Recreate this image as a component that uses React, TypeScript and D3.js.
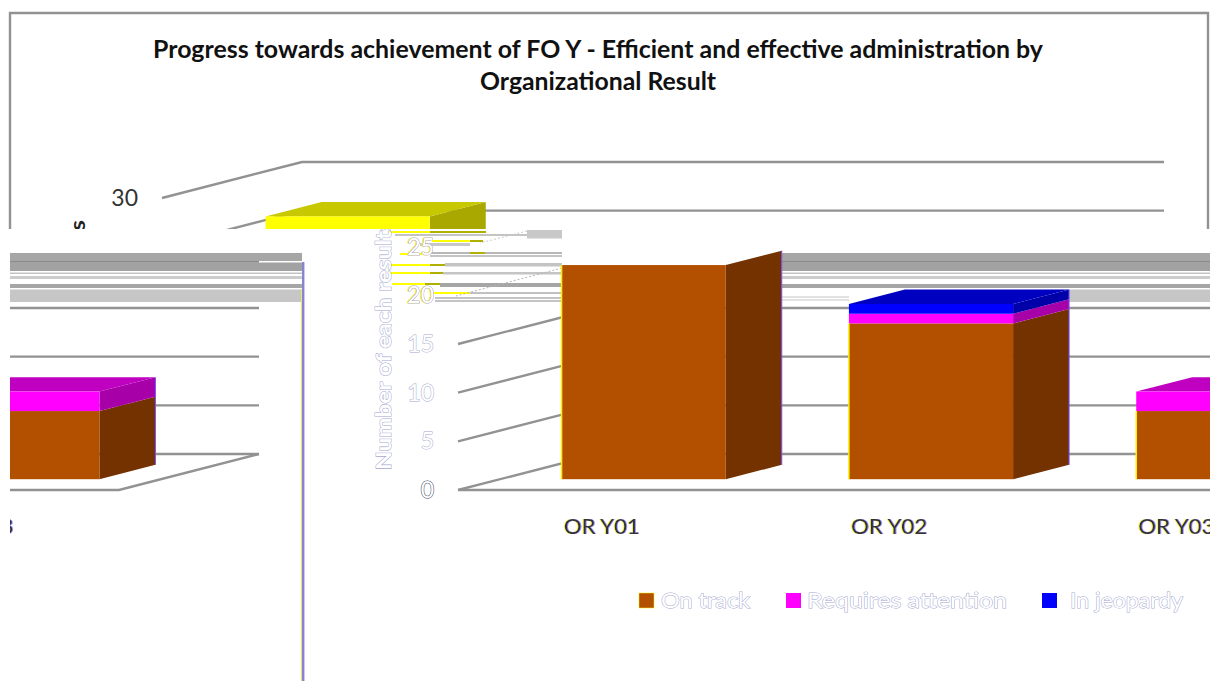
import React from "react";
import * as d3 from "d3";

const categories = ["OR Y01", "OR Y02", "OR Y03"];
const seriesNames = ["On track", "Requires attention", "In jeopardy", "Completed"];
const onTrack = [22, 16, 7];
const requiresAttention = [0, 1, 2];
const inJeopardy = [0, 1, 0];
const completed = [5, 0, 0];
const valueTicks = [0, 5, 10, 15, 20, 25, 30];
const titleLines = [
  "Progress towards achievement of FO Y - Efficient and effective administration by",
  "Organizational Result",
];
const axisTitle = "Number of each results";

const front = ["#b25000", "#ff00ff", "#0000ff", "#ffff00"];
const topFace = ["#8f4000", "#c000c0", "#0000c0", "#c8c800"];
const sideFace = ["#733200", "#a800a8", "#0000a8", "#a8a800"];
const GRID = "#929292";
const FONT = "Lato, 'Open Sans', sans-serif";

const seriesValues = [onTrack, requiresAttention, inJeopardy, completed];
const stacked = d3.stack<number>()
  .keys([0, 1, 2, 3] as any)
  .value((i: number, k: any) => seriesValues[k][i])(categories.map((_, i) => i));

const y = d3.scaleLinear().domain([0, 30]).range([490, 198]);
const floor = d3.scaleBand<string>().domain(categories).range([162, 1024]);
const bars = d3.scaleBand<string>().domain(categories).range([162, 1024]).paddingInner(0.4286).paddingOuter(0.2143);
const DEPTH_X = 140;
const DEPTH_Y = 36;
const BAR_D0 = 0.3;
const BAR_D1 = 0.7;

const pt = (x: number, v: number, d: number) => `${x + d * DEPTH_X},${y(v) - d * DEPTH_Y}`;
const poly = (...p: string[]) => p.join(" ");

type LayerMode = "top" | "lower" | "left";

function Grid() {
  const x0 = floor.range()[0];
  const x1 = floor.range()[1];
  return (
    <g fill="none" stroke={GRID} strokeWidth={2.4}>
      {valueTicks.map((t) => (
        <polyline key={t} points={poly(pt(x0, t, 0), pt(x0, t, 1), pt(x1, t, 1))} />
      ))}
      <polyline points={poly(pt(x0, 0, 0), pt(x1, 0, 0), pt(x1, 0, 1))} />
    </g>
  );
}

function Bars({ mode }: { mode: LayerMode }) {
  const w = bars.bandwidth();
  return (
    <g>
      {categories.map((c, i) => {
        const x = bars(c)!;
        const fL = x + BAR_D0 * DEPTH_X;
        const visibleSeries = stacked.filter((s) => s[i][1] > s[i][0] && (mode === "top" || s.key !== (3 as any)));
        const last = visibleSeries[visibleSeries.length - 1];
        return (
          <g key={c}>
            {visibleSeries.map((s) => {
              const k = s.index;
              const [a, b] = s[i];
              const showTop = s === last && !(mode !== "top" && i === 0);
              return (
                <g key={k} stroke="none">
                  <polygon fill={sideFace[k]} points={poly(pt(x + w, a, BAR_D0), pt(x + w, a, BAR_D1), pt(x + w, b, BAR_D1), pt(x + w, b, BAR_D0))} />
                  {showTop && (
                    <polygon fill={topFace[k]} points={poly(pt(x, b, BAR_D0), pt(x, b, BAR_D1), pt(x + w, b, BAR_D1), pt(x + w, b, BAR_D0))} />
                  )}
                  <rect
                    x={fL}
                    y={y(b) - BAR_D0 * DEPTH_Y}
                    width={w}
                    height={y(a) - y(b)}
                    fill={front[k]}
                  />
                </g>
              );
            })}
            {mode !== "top" && (
              <>
                <line x1={fL} x2={fL} y1={y(0) - BAR_D0 * DEPTH_Y} y2={y(onTrack[i]) - BAR_D0 * DEPTH_Y} stroke="#ffee00" strokeWidth={1.5} />
                <line x1={x + w + BAR_D1 * DEPTH_X} x2={x + w + BAR_D1 * DEPTH_X} y1={y(0) - BAR_D1 * DEPTH_Y} y2={y(last[i][1]) - BAR_D1 * DEPTH_Y} stroke="#7a50ff" strokeWidth={1} />
              </>
            )}
          </g>
        );
      })}
    </g>
  );
}

const stripes: [number, number, number, number, string][] = [
  [527, 562, 230, 8.5, "#c8c8c8"],
  [388, 430, 231, 2, "#ffff00"],
  [430, 486, 231, 2, "#b0b000"],
  [395, 527, 234, 2, "#c4c4c4"],
  [432, 470, 240, 2, "#ffff00"],
  [470, 483, 240, 2, "#b0b000"],
  [420, 470, 243, 3, "#c8c8c8"],
  [400, 430, 253, 2, "#ffff00"],
  [430, 562, 252, 2, "#b8b8b8"],
  [470, 485, 252, 2, "#b0b000"],
  [430, 562, 255, 2, "#c4c4c4"],
  [390, 430, 264, 2, "#ffff00"],
  [430, 445, 264, 2, "#b0b000"],
  [445, 562, 263, 3.5, "#c4c4c4"],
  [390, 430, 272, 2, "#ffff00"],
  [430, 443, 272, 2, "#b0b000"],
  [443, 562, 272, 2.5, "#c4c4c4"],
  [392, 425, 283, 2, "#ffff00"],
  [425, 440, 283, 2, "#b0b000"],
  [440, 562, 283, 4, "#a6a6a6"],
  [432, 470, 292, 2, "#ffff00"],
  [470, 562, 292, 2, "#c0c0c0"],
  [435, 562, 297, 2, "#c4c4c4"],
  [435, 562, 300, 2, "#c4c4c4"],
];

function Band({ x1, x2, lightBand }: { x1: number; x2: number; lightBand: boolean }) {
  const w = x2 - x1;
  return (
    <g>
      <rect x={x1} y={253} width={w} height={8} fill="#a6a6a6" />
      <rect x={x1} y={261} width={w} height={1} fill="#8a8a8a" />
      <rect x={x1} y={262} width={w} height={9} fill="#a2a2a2" />
      <rect x={x1} y={272.5} width={w} height={1.5} fill="#c4c4c4" />
      <rect x={x1} y={276} width={w} height={3} fill="#cccccc" />
      <rect x={x1} y={284} width={w} height={4} fill="#a6a6a6" />
      {lightBand && <rect x={x1} y={289.5} width={w} height={12.5} fill="#c6c6c6" />}
    </g>
  );
}

const paleStyle = { fill: "#ffffff", stroke: "#a4a8d0", strokeWidth: 1, paintOrder: "stroke" } as const;
const zeroStyle = { fill: "#ffffff", stroke: "#444a70", strokeWidth: 1.1, paintOrder: "stroke" } as const;

function Texts({ mode }: { mode: LayerMode }) {
  const tx = 138;
  const lower = mode === "lower";
  return (
    <g fontFamily={FONT}>
      {valueTicks
        .filter((t) => (mode === "top" ? t === 30 : lower && t < 30))
        .map((t) => {
          const style = mode === "top" ? undefined : t === 0 ? zeroStyle : paleStyle;
          return (
            <text
              key={t}
              x={tx}
              y={y(t) + 8}
              textAnchor="end"
              fontSize={23}
              fill="#333"
              filter={lower && (t === 20 || t === 25) ? "url(#fringe2)" : undefined}
              style={style}
            >
              {t}
            </text>
          );
        })}
      {mode !== "left" && (
        <text
          transform={`translate(${mode === "top" ? 85 : 95},${470}) rotate(-90)`}
          fontSize={21}
          fontWeight={700}
          textLength={250}
          lengthAdjust="spacingAndGlyphs"
          fill="#222"
          style={lower ? paleStyle : undefined}
        >
          {axisTitle}
        </text>
      )}
      {categories.map((c, i) => {
        if (mode === "top") return null;
        if (mode === "left" && i !== 2) return null;
        return (
          <text
            key={c}
            x={floor(c)! + floor.bandwidth() / 2}
            y={534}
            textAnchor="middle"
            fontSize={22}
            textLength={76}
            lengthAdjust="spacingAndGlyphs"
            fill="#333"
            filter="url(#fringe)"
          >
            {c}
          </text>
        );
      })}
    </g>
  );
}

const legendSwatchX = [343, 490, 746];
const legendTextX = [365, 511, 774];
const legendTextW = [89, 200, 113];

function Legend() {
  return (
    <g fontFamily={FONT}>
      {[0, 1, 2].map((k) => (
        <g key={k}>
          <rect x={legendSwatchX[k]} y={593} width={15} height={15} fill={front[k]} stroke={k === 0 ? "#ffee00" : "none"} strokeWidth={0.5} />
          <text
            x={legendTextX[k]}
            y={608}
            fontSize={22}
            textLength={legendTextW[k]}
            lengthAdjust="spacingAndGlyphs"
            style={paleStyle}
          >
            {seriesNames[k]}
          </text>
        </g>
      ))}
    </g>
  );
}

export default function App() {
  return (
    <svg
      width={1210}
      height={681}
      viewBox="0 0 1210 681"
      style={{ position: "absolute", left: 0, top: 0, display: "block", background: "#fff" }}
    >
      <defs>
        <clipPath id="clipTop"><rect x={0} y={0} width={1210} height={229} /></clipPath>
        <clipPath id="clipLower"><rect x={305} y={229} width={905} height={452} /></clipPath>
        <clipPath id="clipLeft"><rect x={10} y={302} width={292} height={379} /></clipPath>
        <clipPath id="clipGridLower"><rect x={-400} y={303} width={2400} height={400} /></clipPath>
        <filter id="fringe" x="-10%" y="-10%" width="120%" height="120%">
          <feFlood floodColor="#ffee00" floodOpacity={0.7} result="c1" />
          <feComposite in="c1" in2="SourceAlpha" operator="in" result="y1" />
          <feOffset in="y1" dx={-1} result="yo" />
          <feFlood floodColor="#5050ff" floodOpacity={0.6} result="c2" />
          <feComposite in="c2" in2="SourceAlpha" operator="in" result="b1" />
          <feOffset in="b1" dx={1} result="bo" />
          <feMerge>
            <feMergeNode in="yo" />
            <feMergeNode in="bo" />
            <feMergeNode in="SourceGraphic" />
          </feMerge>
        </filter>
        <filter id="fringe2" x="-10%" y="-10%" width="120%" height="120%">
          <feFlood floodColor="#ffee00" result="c1" />
          <feComposite in="c1" in2="SourceAlpha" operator="in" result="y1" />
          <feOffset in="y1" dx={-1} result="yo" />
          <feMerge>
            <feMergeNode in="yo" />
            <feMergeNode in="SourceGraphic" />
          </feMerge>
        </filter>
      </defs>

      {/* chart frame */}
      <polyline points="10,229 10,13 1208,13 1208,229" fill="none" stroke={GRID} strokeWidth={2.4} />
      <g fontFamily={FONT} fontWeight={700} fontSize={24} fill="#111" textAnchor="middle">
        <text x={598} y={58} textLength={890} lengthAdjust="spacingAndGlyphs">{titleLines[0]}</text>
        <text x={598} y={90} textLength={236} lengthAdjust="spacingAndGlyphs">{titleLines[1]}</text>
      </g>

      {/* upper, undisturbed part of the picture */}
      <g clipPath="url(#clipTop)">
        <Grid />
        <Bars mode="top" />
        <Texts mode="top" />
      </g>

      {/* disturbed band */}
      <g clipPath="url(#clipLower)">
        <Band x1={782} x2={1210} lightBand={false} />
        <rect x={1069} y={289.5} width={141} height={12.5} fill="#c6c6c6" />
        <rect x={782} y={296} width={67} height={2} fill="#e2e2e2" />
        <rect x={782} y={299} width={67} height={2} fill="#e2e2e2" />
        {stripes.map(([a, b, yy, h, col], i) => (
          <rect key={i} x={a} y={yy} width={b - a} height={h} fill={col} />
        ))}
        <line x1={527} y1={231} x2={480} y2={243} stroke="#c8c8c8" strokeDasharray="2 2" />
        <line x1={562} y1={268} x2={456} y2={296} stroke="#b4b4b4" strokeDasharray="2 2" />
      </g>
      <Band x1={10} x2={302} lightBand />
      <rect x={259} y={261} width={44} height={1.5} fill="#fff" />

      {/* wrapped lower part: right piece */}
      <g clipPath="url(#clipLower)">
        <g transform="translate(296,0)">
          <g clipPath="url(#clipGridLower)">
            <Grid />
          </g>
          <Bars mode="lower" />
          <Texts mode="lower" />
          <Legend />
        </g>
      </g>

      {/* wrapped lower part: left piece */}
      <g clipPath="url(#clipLeft)">
        <g transform="translate(-905,0)">
          <Grid />
          <Bars mode="left" />
          <Texts mode="left" />
        </g>
      </g>

      {/* frame's right edge, wrapped */}
      <line x1={303} x2={303} y1={262} y2={681} stroke="#8a8abf" strokeWidth={2} />
      <line x1={301.5} x2={301.5} y1={289} y2={681} stroke="#efe070" strokeWidth={1} />
      <line x1={304} x2={304} y1={262} y2={681} stroke="#7a7aff" strokeWidth={0.8} />
    </svg>
  );
}
